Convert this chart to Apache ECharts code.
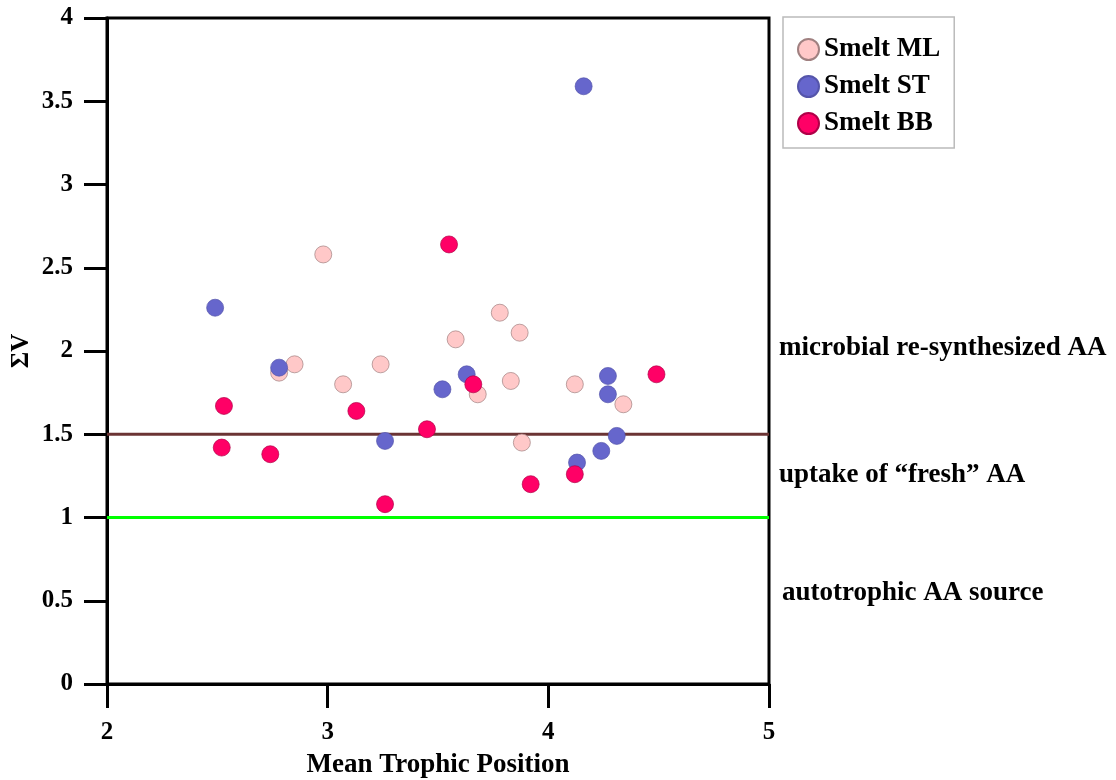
<!DOCTYPE html>
<html><head><meta charset="utf-8">
<script src="https://cdn.jsdelivr.net/npm/echarts@6/dist/echarts.min.js"></script>
<style>html,body{margin:0;padding:0;background:#fff}#c{width:1116px;height:780px}</style>
</head><body><div id="c"></div>
<script>
const xTicks = [2, 3, 4, 5];
const yTicks = [0, 0.5, 1, 1.5, 2, 2.5, 3, 3.5, 4];
const seriesNames = ['Smelt ML', 'Smelt ST', 'Smelt BB'];
const mlX = [2.98, 2.85, 2.78, 3.07, 3.24, 3.58, 3.78, 3.87, 3.83, 3.68, 3.88, 4.12, 4.34];
const mlY = [2.58, 1.92, 1.87, 1.80, 1.92, 2.07, 2.23, 2.11, 1.82, 1.74, 1.45, 1.80, 1.68];
const stX = [2.49, 2.78, 3.26, 3.52, 3.63, 4.16, 4.27, 4.27, 4.31, 4.24, 4.13];
const stY = [2.26, 1.90, 1.46, 1.77, 1.86, 3.59, 1.85, 1.74, 1.49, 1.40, 1.33];
const bbX = [2.53, 2.52, 2.74, 3.13, 3.26, 3.45, 3.55, 3.66, 3.92, 4.12, 4.49];
const bbY = [1.67, 1.42, 1.38, 1.64, 1.08, 1.53, 2.64, 1.80, 1.20, 1.26, 1.86];
const refLevels = [1.5, 1.0];
const zoneLabels = ['microbial re-synthesized AA', 'uptake of \u201cfresh\u201d AA', 'autotrophic AA source'];
const zoneLabelY = [2.02, 1.255, 0.547];
const yAxisTitle = '\u03a3V';

const F = '"Liberation Serif", "DejaVu Serif", serif';
const zip = (a, b) => a.map((v, i) => [v, b[i]]);
const chart = echarts.init(document.getElementById('c'));
const colors = ['#ffc8c8', '#6666cc', '#ff0066'];
const borders = ['#a08080', '#5555aa', '#b00048'];
const mk = (name, x, y, i) => ({
  name, type: 'scatter', data: zip(x, y), symbol: 'circle', symbolSize: 17,
  itemStyle: { color: colors[i], borderColor: borders[i], borderWidth: 0.7, opacity: 1 },
  z: 3 + i
});
chart.setOption({
  animation: false,
  grid: { left: 107, right: 347, top: 18, bottom: 96, show: true, borderColor: '#000', borderWidth: 3, containLabel: false, outerBoundsMode: 'none' },
  legend: {
    data: seriesNames, orient: 'vertical', left: 783, top: 17,
    padding: [19, 14, 11, 14], itemGap: 10, itemWidth: 21, itemHeight: 21,
    borderColor: '#bbb', borderWidth: 1.5, icon: 'circle',
    textStyle: { fontFamily: F, fontWeight: 'bold', fontSize: 27, color: '#000' }
  },
  xAxis: {
    type: 'value', min: 2, max: 5, interval: 1,
    name: 'Mean Trophic Position', nameLocation: 'middle', nameGap: 68,
    nameTextStyle: { fontFamily: F, fontWeight: 'bold', fontSize: 27, color: '#000' },
    axisLine: { lineStyle: { color: '#000', width: 3 } },
    axisTick: { show: true, length: 24, lineStyle: { color: '#000', width: 3 } },
    axisLabel: { margin: 36, fontFamily: F, fontWeight: 'bold', fontSize: 25, color: '#000', formatter: v => xTicks.includes(v) ? String(v) : '' },
    splitLine: { show: false }
  },
  yAxis: {
    type: 'value', min: 0, max: 4, interval: 0.5,
    axisLine: { lineStyle: { color: '#000', width: 3 } },
    axisTick: { show: true, length: 23, lineStyle: { color: '#000', width: 3 } },
    axisLabel: { margin: 34, fontFamily: F, fontWeight: 'bold', fontSize: 25, color: '#000', formatter: v => yTicks.includes(v) ? String(v) : '' },
    splitLine: { show: false }
  },
  series: [
    { name: 'ref15', type: 'line', data: [[2, refLevels[0]], [5, refLevels[0]]], symbol: 'none', lineStyle: { color: '#6b3434', width: 3 }, z: 1, silent: true },
    { name: 'ref10', type: 'line', data: [[2, refLevels[1]], [5, refLevels[1]]], symbol: 'none', lineStyle: { color: '#00ff00', width: 3 }, z: 1, silent: true },
    mk(seriesNames[0], mlX, mlY, 0),
    mk(seriesNames[1], stX, stY, 1),
    mk(seriesNames[2], bbX, bbY, 2)
  ]
});
const labelEls = zoneLabels.map((t, i) => {
  const p = chart.convertToPixel({ gridIndex: 0 }, [5, zoneLabelY[i]]);
  return { type: 'text', x: p[0] + 10 + (i === 2 ? 3 : 0), y: p[1],
    style: { text: t, fontFamily: F, fontWeight: 'bold', fontSize: 27, fill: '#000', verticalAlign: 'middle' } };
});
const pm = chart.convertToPixel({ gridIndex: 0 }, [2, 2]);
labelEls.push({ type: 'text', x: pm[0] - 85, y: pm[1], rotation: Math.PI / 2,
  style: { text: yAxisTitle, fontFamily: F, fontWeight: 'bold', fontSize: 25, fill: '#000', align: 'center', verticalAlign: 'middle' } });
chart.setOption({ graphic: labelEls });
</script></body></html>
